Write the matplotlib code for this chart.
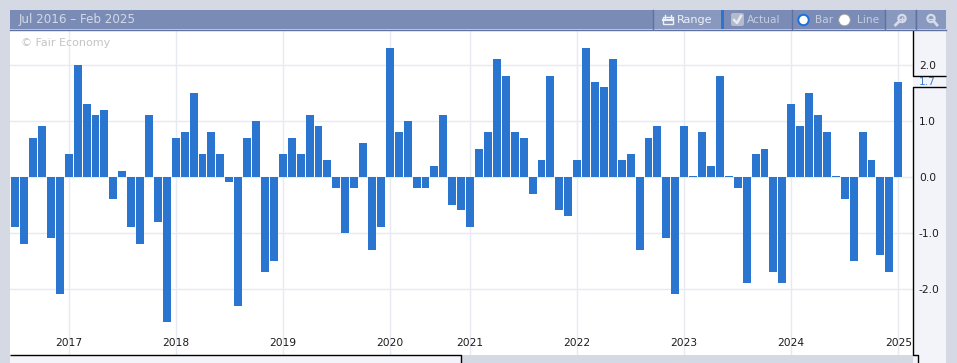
import numpy as np
import matplotlib
matplotlib.use("Agg")
import matplotlib.pyplot as plt
from matplotlib.patches import Rectangle, Circle, FancyBboxPatch

# one bar per month, 2020 only has 9 months on the axis
v2016 = [-0.9, -1.2, 0.7, 0.9, -1.1, -2.1]
v2017 = [0.4, 2.0, 1.3, 1.1, 1.2, -0.4, 0.1, -0.9, -1.2, 1.1, -0.8, -2.6]
v2018 = [0.7, 0.8, 1.5, 0.4, 0.8, 0.4, -0.1, -2.3, 0.7, 1.0, -1.7, -1.5]
v2019 = [0.4, 0.7, 0.4, 1.1, 0.9, 0.3, -0.2, -1.0, -0.2, 0.6, -1.3, -0.9]
v2020 = [2.3, 0.8, 1.0, -0.2, -0.2, 0.2, 1.1, -0.5, -0.6]
v2021 = [-0.9, 0.5, 0.8, 2.1, 1.8, 0.8, 0.7, -0.3, 0.3, 1.8, -0.6, -0.7]
v2022 = [0.3, 2.3, 1.7, 1.6, 2.1, 0.3, 0.4, -1.3, 0.7, 0.9, -1.1, -2.1]
v2023 = [0.9, 0.02, 0.8, 0.2, 1.8, 0.02, -0.2, -1.9, 0.4, 0.5, -1.7, -1.9]
v2024 = [1.3, 0.9, 1.5, 1.1, 0.8, 0.02, -0.4, -1.5, 0.8, 0.3, -1.4, -1.7]
v2025 = [1.7]

years = ["2017", "2018", "2019", "2020", "2021", "2022", "2023", "2024", "2025"]
year_pos = [6, 18, 30, 42, 51, 63, 75, 87, 99]
y_ticks = [-2.0, -1.0, 0.0, 1.0, 2.0]
latest = 1.7

W, H = 957, 363
PAGE = "#d5d9e3"
SIDE = "#f3f4f9"
BAR = "#2a75cf"
GRID = "#e8eaf1"
TOOL = "#7a8cb5"
BTN = "#8898bf"
SEP = "#5f71a3"
ICON = "#d6dbe8"
FS = 7.7

plt.rcParams["font.family"] = "DejaVu Sans"
f = plt.figure(figsize=(W / 100, H / 100), dpi=100, facecolor=PAGE)

# chrome layer, in pixels
bg = f.add_axes([0, 0, 1, 1], zorder=0)
bg.set_xlim(0, W)
bg.set_ylim(H, 0)
bg.axis("off")
bg.add_patch(Rectangle((913, 30), 33, H - 30, fc=SIDE, ec="none"))
bg.add_patch(Rectangle((10, 355), 451, 8, fc=SIDE, ec="none"))

# main chart
x0, x1 = 10, 913
y0, y1 = 30, 355
a = f.add_axes([x0 / W, 1 - y1 / H, (x1 - x0) / W, (y1 - y0) / H], zorder=1)
vals = np.array(v2016 + v2017 + v2018 + v2019 + v2020 + v2021 + v2022 + v2023 + v2024 + v2025)
xs = np.arange(len(vals))
a.bar(xs, vals, width=0.89, color=BAR, zorder=3)
step = 8.92
first = 15.2
a.set_xlim((x0 - first) / step, (x1 - first) / step)
a.set_ylim(-(y1 - 176.8) / 56, (176.8 - y0) / 56)
a.set_xticks(year_pos)
a.set_xticklabels(years)
a.yaxis.tick_right()
a.set_yticks(y_ticks)
a.set_yticklabels(["%.1f" % t for t in y_ticks])
a.tick_params(axis="x", length=0, pad=-12, labelsize=FS, labelcolor="#1c1c1c")
a.tick_params(axis="y", length=0, pad=4.3, labelsize=FS, labelcolor="#1c1c1c")
a.grid(True, color=GRID, linewidth=1.0, zorder=0)
a.set_axisbelow(True)
for s in a.spines.values():
    s.set_visible(False)
a.annotate("%.1f" % latest, xy=(1, latest), xycoords=("axes fraction", "data"),
           xytext=(4.3, 0), textcoords="offset points", va="center", ha="left",
           color="#3f7fd0", fontsize=FS, annotation_clip=False)

# overlay: toolbar, lines, copyright
o = f.add_axes([0, 0, 1, 1], zorder=2)
o.set_xlim(0, W)
o.set_ylim(H, 0)
o.axis("off")
o.patch.set_alpha(0)
o.text(21, 43, "© Fair Economy", color="#c4c4c4", fontsize=8.0, va="center", ha="left")

# black outline round the plot and the price tag
o.plot([10, 461, 461], [355, 355, 363], color="k", lw=1, solid_capstyle="butt")
o.plot([913, 913, 946], [30, 76, 76], color="k", lw=1, solid_capstyle="butt")
o.plot([946, 913, 913, 918, 918], [87, 87, 355, 355, 363], color="k", lw=1, solid_capstyle="butt")

# toolbar
o.add_patch(Rectangle((10, 10), 936, 19, fc=TOOL, ec="none"))
o.plot([10, 946], [29.5, 29.5], color=SEP, lw=1)
o.add_patch(Rectangle((653, 10), 68, 19, fc=BTN, ec="none"))
o.add_patch(Rectangle((721, 10), 3, 19, fc=BAR, ec="none"))
o.add_patch(Rectangle((885, 10), 30, 19, fc=BTN, ec="none"))
o.add_patch(Rectangle((916, 10), 30, 19, fc=BTN, ec="none"))
for sx in [652.5, 791.5, 884.5, 915.5]:
    o.plot([sx, sx], [10, 29], color=SEP, lw=1)

o.text(19, 20, "Jul 2016 – Feb 2025", color="#d3d8e6", fontsize=8.6, va="center", ha="left")

# calendar icon
o.add_patch(Rectangle((662.5, 17), 10.5, 7, fc="none", ec="#eef0f6", lw=1))
o.plot([662.5, 673], [19.5, 19.5], color="#eef0f6", lw=1.5)
o.plot([665, 665], [15, 18], color="#eef0f6", lw=1)
o.plot([671, 671], [15, 18], color="#eef0f6", lw=1)
o.text(677, 20, "Range", color="#eef0f6", fontsize=8.1, va="center", ha="left")

# checkbox
o.add_patch(FancyBboxPatch((732, 14), 11, 11, boxstyle="round,pad=1,rounding_size=2",
                           fc="#b4bbcc", ec="none"))
o.plot([734, 737, 741], [20, 23, 16], color="#e8eaf0", lw=1.8)
o.text(747, 20, "Actual", color="#c6cde0", fontsize=FS, va="center", ha="left")

# radios
o.add_patch(Circle((803.5, 20), 5.2, fc="white", ec="#1a6fe0", lw=1.4))
o.text(815.5, 20, "Bar", color="#c6cde0", fontsize=FS, va="center", ha="left")
o.add_patch(Circle((844.5, 20), 5.8, fc="white", ec="#9a9a9a", lw=0.6))
o.text(856.5, 20, "Line", color="#c6cde0", fontsize=FS, va="center", ha="left")

# zoom buttons
o.add_patch(Circle((902, 18.5), 3.6, fc="none", ec=ICON, lw=1.6))
o.plot([899, 895.5], [21.5, 25], color=ICON, lw=2)
o.plot([900, 904], [18.5, 18.5], color=ICON, lw=1)
o.plot([902, 902], [16.5, 20.5], color=ICON, lw=1)
o.add_patch(Circle((931, 18.5), 3.6, fc="none", ec=ICON, lw=1.6))
o.plot([934, 937], [21.5, 25], color=ICON, lw=2)
o.plot([929, 933], [18.5, 18.5], color=ICON, lw=1)

f.savefig("out.png", dpi=100, facecolor=PAGE)
